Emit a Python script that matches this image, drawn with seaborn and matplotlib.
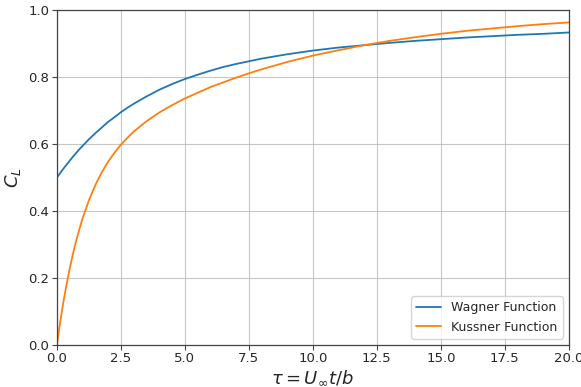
import matplotlib
matplotlib.use("Agg")
import matplotlib.pyplot as plt
import seaborn as sns
import pandas as pd

tau = [0, 0.125, 0.25, 0.375, 0.5, 0.625, 0.75, 0.875, 1, 1.25, 1.5, 1.75, 2, 2.25, 2.5, 2.75,
       3, 3.5, 4, 4.5, 5, 5.5, 6, 6.5, 7, 7.5, 8, 9, 10, 11, 12, 13, 14, 15, 16, 17, 18, 19, 20]
wagner = [0.500, 0.513, 0.526, 0.538, 0.550, 0.562, 0.573, 0.584, 0.594, 0.614, 0.632, 0.649,
          0.666, 0.680, 0.695, 0.708, 0.720, 0.742, 0.762, 0.779, 0.794, 0.807, 0.819, 0.830,
          0.839, 0.847, 0.855, 0.868, 0.879, 0.888, 0.895, 0.902, 0.908, 0.913, 0.918, 0.922,
          0.926, 0.929, 0.933]
kussner = [0.000, 0.067, 0.127, 0.180, 0.228, 0.271, 0.310, 0.345, 0.377, 0.432, 0.477, 0.515,
           0.547, 0.574, 0.598, 0.618, 0.637, 0.668, 0.694, 0.716, 0.736, 0.753, 0.770, 0.784,
           0.798, 0.811, 0.823, 0.845, 0.864, 0.880, 0.895, 0.908, 0.919, 0.929, 0.938, 0.945,
           0.952, 0.958, 0.963]

df = pd.DataFrame({
    "tau": tau * 2,
    "value": wagner + kussner,
    "series": ["Wagner Function"] * len(tau) + ["Kussner Function"] * len(tau),
})

sns.set_style("ticks")
plt.rcParams["font.family"] = ["DejaVu Sans"]
fig, ax = plt.subplots(figsize=(5.81, 3.87), dpi=100)
sns.lineplot(data=df, x="tau", y="value", hue="series",
             palette=["#1f77b4", "#ff7f0e"], ax=ax, linewidth=1.3)
ax.set_xlim(0, 20)
ax.set_ylim(0, 1)
ax.set_xticks([0, 2.5, 5, 7.5, 10, 12.5, 15, 17.5, 20])
ax.set_yticks([0, 0.2, 0.4, 0.6, 0.8, 1.0])
ax.grid(True, color="#b0b0b0", linewidth=0.8, alpha=0.7)
for s in ax.spines.values():
    s.set_color("#444444")
    s.set_linewidth(0.9)
ax.set_xlabel(r"$\tau = U_{\infty}t/b$", fontsize=13, labelpad=2)
ax.set_ylabel(r"$C_L$", fontsize=13, labelpad=4)
ax.tick_params(labelsize=9.5, color="#444444", length=3.5, pad=2)
ax.legend(loc="lower right", fontsize=9, title=None)
fig.subplots_adjust(left=0.098, right=0.979, top=0.974, bottom=0.109)
fig.savefig("out.png", dpi=100)
